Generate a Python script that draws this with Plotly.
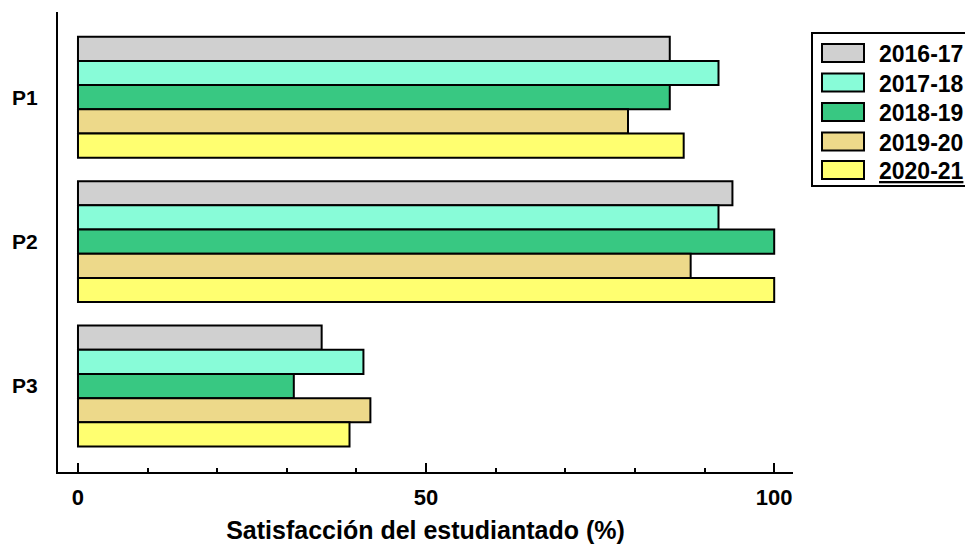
import plotly.graph_objects as go

categories = ["P1", "P2", "P3"]
series_names = ["2016-17", "2017-18", "2018-19", "2019-20", "2020-21"]
values_2016_17 = [85, 94, 35]
values_2017_18 = [92, 92, 41]
values_2018_19 = [85, 100, 31]
values_2019_20 = [79, 88, 42]
values_2020_21 = [87, 100, 39]
series_values = [values_2016_17, values_2017_18, values_2018_19, values_2019_20, values_2020_21]
colors = ["#D0D0D0", "#88FCD8", "#38C882", "#EDD98A", "#FFFF70"]
x_tick_values = [0, 50, 100]
x_title = "Satisfacción del estudiantado (%)"

FONT = "Liberation Sans, Arial, sans-serif"
OFF = 8  # default page margin of the html body
W, H = 973 - OFF, 545 - OFF
ML, MT = 58 - OFF, 12 - OFF
MR = W - (793 - OFF)
MB = H - (472 - OFF)
PW, PH = W - ML - MR, H - MT - MB

fig = go.Figure()
for name, vals, col in zip(series_names, series_values, colors):
    fig.add_trace(go.Bar(
        y=categories, x=vals, name=name, orientation="h",
        marker=dict(color=col, line=dict(color="black", width=2)),
        showlegend=False,
    ))

def px_x(px):
    return (px - OFF - ML) / PW

def px_y(py):
    return (H - MB - (py - OFF)) / PH

shapes = []
annotations = []
# legend box
shapes.append(dict(type="rect", xref="paper", yref="paper",
                   x0=px_x(812), x1=px_x(990), y0=px_y(186), y1=px_y(33),
                   line=dict(color="black", width=2), fillcolor="white"))
legend_centers = [53, 82.5, 112, 141.5, 170]
for i, (name, col, cy) in enumerate(zip(series_names, colors, legend_centers)):
    shapes.append(dict(type="rect", xref="paper", yref="paper",
                       x0=px_x(822), x1=px_x(864), y0=px_y(cy + 9), y1=px_y(cy - 9),
                       line=dict(color="black", width=2), fillcolor=col))
    label = "<b>%s</b>" % name
    if i == len(series_names) - 1:
        label = "<u>%s</u>" % label
    annotations.append(dict(xref="paper", yref="paper", x=px_x(877), y=px_y(cy + 1),
                            text=label, showarrow=False,
                            xanchor="left", yanchor="middle",
                            font=dict(family=FONT, size=23, color="black")))

fig.update_layout(
    width=W, height=H,
    margin=dict(l=ML, r=MR, t=MT, b=MB, pad=0),
    paper_bgcolor="white", plot_bgcolor="white",
    barmode="group", bargap=0.163, bargroupgap=0,
    font=dict(family=FONT, color="black"),
    shapes=shapes, annotations=annotations,
)
fig.update_xaxes(
    range=[-2.87, 102.7], tickvals=x_tick_values,
    ticktext=["<b>%d</b>" % v for v in x_tick_values],
    ticks="inside", ticklen=9, tickwidth=2, tickcolor="black",
    minor=dict(dtick=10, tick0=0, ticks="inside", ticklen=4, tickwidth=2, tickcolor="black"),
    showline=True, linecolor="black", linewidth=2, showgrid=False, zeroline=False,
    ticklabelstandoff=5,
    tickfont=dict(family=FONT, size=22, color="black"),
    title=dict(text="<b>%s</b>" % x_title, font=dict(family=FONT, size=25, color="black"), standoff=12),
)
fig.update_yaxes(
    type="category", categoryorder="array", categoryarray=categories,
    range=[2.595, -0.59],
    tickvals=categories, ticktext=["<b>%s</b>" % c for c in categories],
    ticks="", showline=True, linecolor="black", linewidth=2, showgrid=False, zeroline=False,
    ticklabelstandoff=14,
    tickfont=dict(family=FONT, size=21, color="black"),
)

fig.write_html("out.html")
